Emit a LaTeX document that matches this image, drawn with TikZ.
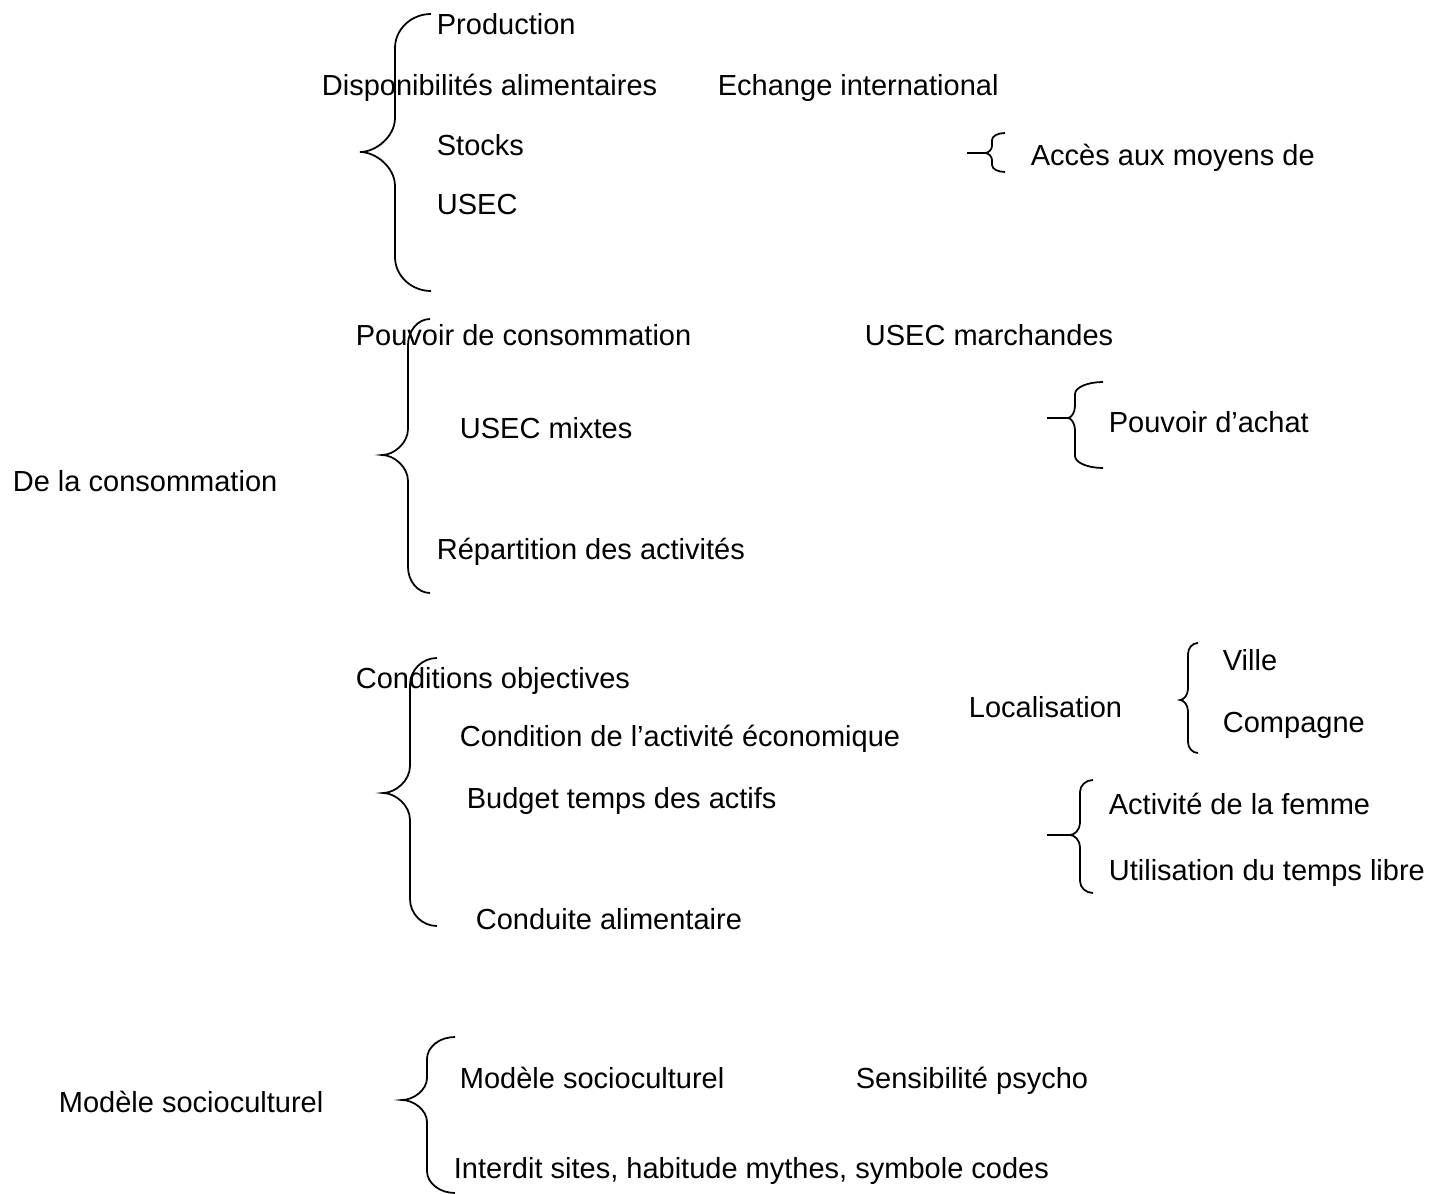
\documentclass[tikz,border=0pt]{standalone}
\usepackage{fontspec}
\setmainfont{Liberation Sans}
\tikzset{lbl/.style={anchor=west, inner sep=0pt, text height=0.72em, text depth=0pt,
  yshift=0.6pt, font=\fontsize{8.25}{10}\selectfont}}
% curly brace: end x, line x, tip x, top y, tip y, bottom y, radius
\newcommand{\brc}[7]{%
  \draw (#1,#4) .. controls ({#2+0.45*(#1-#2)},#4) and (#2,{#4+0.45*#7}) .. (#2,#4+#7)
    -- (#2,#5-#7) .. controls (#2,{#5-0.45*#7}) and ({#3+0.45*(#2-#3)},#5) .. (#3,#5)
    .. controls ({#3+0.45*(#2-#3)},#5) and (#2,{#5+0.45*#7}) .. (#2,#5+#7)
    -- (#2,#6-#7) .. controls (#2,{#6-0.45*#7}) and ({#2+0.45*(#1-#2)},#6) .. (#1,#6);}
\begin{document}
\begin{tikzpicture}[x=0.01cm, y=-0.01cm, line width=0.5pt]
\useasboundingbox (0,0) rectangle (1435,1194);

\node[lbl] (prod) at (436,24) {Production};
\node[lbl] (dispo) at (321,85) {Disponibilités alimentaires};
\node[lbl] (echange) at (717,85) {Echange international};
\node[lbl] (stocks) at (436,145) {Stocks};
\node[lbl] (usec) at (436,204) {USEC};
\node[lbl] (acces) at (1030,155) {Accès aux moyens de};

\node[lbl] (pouvcons) at (355,335) {Pouvoir de consommation};
\node[lbl] (usecmarch) at (864,335) {USEC marchandes};
\node[lbl] (usecmix) at (459,428) {USEC mixtes};
\node[lbl] (achat) at (1108,422) {Pouvoir d’achat};
\node[lbl] (conso) at (12,481) {De la consommation};
\node[lbl] (repart) at (436,549) {Répartition des activités};

\node[lbl] (condobj) at (355,678) {Conditions objectives};
\node[lbl] (local) at (968,707) {Localisation};
\node[lbl] (ville) at (1222,660) {Ville};
\node[lbl] (compagne) at (1222,722) {Compagne};
\node[lbl] (condact) at (459,736) {Condition de l’activité économique};
\node[lbl] (budget) at (466,798) {Budget temps des actifs};
\node[lbl] (femme) at (1108,804) {Activité de la femme};
\node[lbl] (tempslibre) at (1108,870) {Utilisation du temps libre};
\node[lbl] (conduite) at (475,919) {Conduite alimentaire};

\node[lbl] (modele) at (58,1102) {Modèle socioculturel};
\node[lbl] (modeleb) at (459,1078) {Modèle socioculturel};
\node[lbl] (sensib) at (855,1078) {Sensibilité psycho};
\node[lbl] (interdit) at (453,1168) {Interdit sites, habitude mythes, symbole codes};

% braces
\brc{431}{395}{360}{14}{152}{291}{34}
\brc{430}{408}{382}{319}{455}{593}{26}
\brc{437}{410}{383}{658}{793}{926}{27}
\brc{455}{427}{402}{1037}{1100}{1193}{22}
\brc{1005}{992}{985}{133}{153}{172}{7}
\brc{1103}{1075}{1068}{382}{418}{468}{12}
\brc{1198}{1188}{1180}{643}{700}{753}{11}
\brc{1093}{1080}{1070}{780}{835}{893}{12}
\draw (967,153) -- (985,153);
\draw (1047,418) -- (1068,418);
\draw (1047,835) -- (1070,835);
\end{tikzpicture}
\end{document}
